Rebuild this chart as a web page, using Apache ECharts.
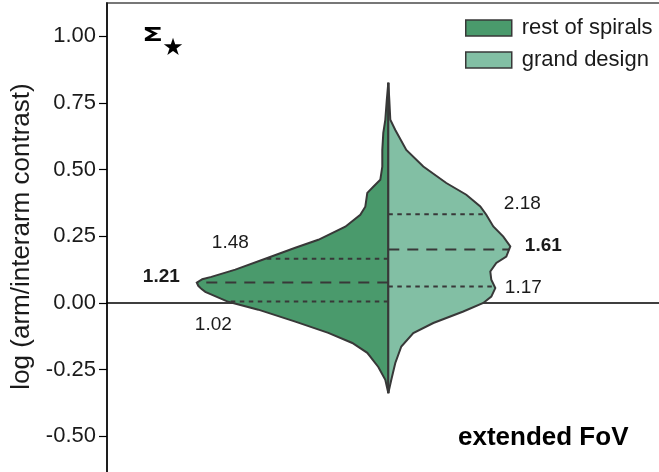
<!DOCTYPE html>
<html>
<head>
<meta charset="utf-8">
<script src="https://cdn.jsdelivr.net/npm/echarts@6/dist/echarts.min.js"></script>
<style>
html,body{margin:0;padding:0;background:#fff;}
#chart{width:659px;height:472px;}
</style>
</head>
<body>
<div id="chart"></div>
<script>
// ---- data ----
const categories = ['rest of spirals', 'grand design'];
const yTicks = [-0.5, -0.25, 0, 0.25, 0.5, 0.75, 1.0];

// violin profile, "rest of spirals" (log contrast vs. half-width density)
const restLog = [-0.338, -0.288, -0.240, -0.187, -0.150, -0.112, -0.070, -0.025, 0.0045, 0.042, 0.053, 0.0645, 0.076, 0.089, 0.098, 0.125, 0.166, 0.207, 0.237, 0.286, 0.331, 0.361, 0.413, 0.436, 0.462, 0.511, 0.574, 0.638, 0.687, 0.762, 0.826];
const restDensity = [0, 3, 10, 21, 36, 60, 93, 130, 160, 183, 187, 190, 191.5, 186, 177, 153, 123, 93, 70, 43, 28, 23, 21, 15, 8, 6, 6, 5, 3, 1.5, 0];

// violin profile, "grand design"
const grandLog = [-0.338, -0.288, -0.225, -0.163, -0.113, -0.075, -0.032, 0.000, 0.024, 0.056, 0.087, 0.118, 0.150, 0.174, 0.212, 0.249, 0.287, 0.331, 0.362, 0.406, 0.450, 0.512, 0.574, 0.649, 0.687, 0.762, 0.826];
const grandDensity = [0, 3, 7, 13, 25, 45, 75, 95, 103, 107, 103, 102, 108, 118, 122, 115, 105, 98, 92, 78, 58, 35, 18, 7, 2, 1, 0];

// quartiles (Q1, median, Q3) in log units and their printed linear values
const restQuartiles = [0.006, 0.077, 0.166];
const restQuartileLabels = ['1.02', '1.21', '1.48'];
const grandQuartiles = [0.062, 0.201, 0.333];
const grandQuartileLabels = ['1.17', '1.61', '2.18'];

// ---- styling / layout ----
const FONT = "'Liberation Sans', Arial, Helvetica, sans-serif";
const INK = '#1a1a1a';
const EDGE = '#383838';
const COLORS = ['#4a9a6c', '#82bfa4'];
const restLabelOffsets = [[-175, 23], [-227, -6], [-158, -15.5]];
const grandLabelOffsets = [[135, 1], [155, -4], [134, -10]];

function interp(vals, dens, q) {
  for (let i = 0; i < vals.length - 1; i++) {
    if (q >= vals[i] && q <= vals[i + 1]) {
      const t = (q - vals[i]) / (vals[i + 1] - vals[i]);
      return dens[i] + t * (dens[i + 1] - dens[i]);
    }
  }
  return 0;
}

function halfRenderer(vals, dens, side, quart, qLabels, offsets, fill) {
  return function (params, api) {
    const pts = vals.map((v, i) => api.coord([side * dens[i], v]));
    const children = [];
    children.push({ type: 'polygon', shape: { points: pts }, style: { fill: fill, stroke: null } });
    quart.forEach((q, k) => {
      const w = interp(vals, dens, q);
      const a = api.coord([0, q]);
      const b = api.coord([side * w, q]);
      children.push({
        type: 'line',
        shape: { x1: a[0], y1: a[1], x2: b[0], y2: b[1] },
        style: { stroke: EDGE, lineWidth: 2, lineDash: k === 1 ? [11, 8] : [4.5, 4.5] }
      });
      children.push({
        type: 'text',
        x: a[0] + offsets[k][0],
        y: a[1] + offsets[k][1],
        style: {
          text: qLabels[k], fontSize: 19, fontFamily: FONT,
          fontWeight: k === 1 ? 'bold' : 'normal', fill: INK,
          align: 'center', verticalAlign: 'middle'
        }
      });
    });
    children.push({ type: 'polyline', shape: { points: pts }, style: { stroke: EDGE, lineWidth: 2, fill: null } });
    const top = api.coord([0, vals[vals.length - 1]]);
    const bot = api.coord([0, vals[0]]);
    children.push({ type: 'line', shape: { x1: top[0], y1: top[1], x2: bot[0], y2: bot[1] }, style: { stroke: EDGE, lineWidth: 2 } });
    return { type: 'group', children: children };
  };
}

const chart = echarts.init(document.getElementById('chart'), null, { renderer: 'canvas' });
chart.setOption({
  animation: false,
  backgroundColor: '#ffffff',
  textStyle: { fontFamily: FONT },
  grid: {
    left: 107, top: 3, width: 562.6, height: 500, show: true,
    borderColor: '#777', borderWidth: 2, backgroundColor: 'transparent',
    outerBoundsMode: 'none', containLabel: false
  },
  xAxis: {
    type: 'value', min: -281.3, max: 281.3,
    axisLine: { show: true, onZero: true, lineStyle: { color: '#000', width: 1.5 } },
    axisTick: { show: false }, axisLabel: { show: false }, splitLine: { show: false }
  },
  yAxis: {
    type: 'value', min: -0.75, max: 1.125, interval: 0.25,
    name: 'log (arm/interarm contrast)', nameLocation: 'middle', nameGap: 72,
    nameTextStyle: { fontSize: 26, color: INK, fontFamily: FONT, padding: [0, 0, 0, 33] },
    axisLine: { show: true, onZero: false, lineStyle: { color: '#000', width: 1.5 } },
    axisTick: { show: true, length: 8, customValues: yTicks, lineStyle: { color: '#000', width: 1.2 } },
    axisLabel: {
      fontSize: 22, color: INK, fontFamily: FONT, margin: 11, customValues: yTicks,
      formatter: v => (Math.abs(v / 0.25 - Math.round(v / 0.25)) < 1e-6 ? v.toFixed(2) : '')
    },
    splitLine: { show: false }
  },
  legend: {
    orient: 'vertical', left: 465, top: 17, padding: 0, itemWidth: 46, itemHeight: 16, itemGap: 10,
    icon: 'rect',
    textStyle: { fontSize: 22, color: INK, fontFamily: FONT, padding: [0, 0, 0, 5] },
    data: categories.map((c, i) => ({ name: c, itemStyle: { color: COLORS[i], borderColor: EDGE, borderWidth: 1.5 } }))
  },
  graphic: [
    { type: 'text', x: 142, y: 36, scaleX: 1.55, style: { text: 'Σ', fontSize: 20, fontWeight: 'bold', fontFamily: "'DejaVu Sans', sans-serif", fill: '#000', align: 'left', verticalAlign: 'middle' } },
    { type: 'text', x: 173, y: 48.5, style: { text: '★', fontSize: 24, fontFamily: "'DejaVu Sans', sans-serif", fill: '#000', align: 'center', verticalAlign: 'middle' } },
    { type: 'text', x: 458, y: 438, style: { text: 'extended FoV', fontSize: 26, fontWeight: 'bold', fontFamily: FONT, fill: '#000', align: 'left', verticalAlign: 'middle' } }
  ],
  series: [
    {
      name: categories[0], type: 'custom', z: 3,
      itemStyle: { color: COLORS[0], borderColor: EDGE },
      renderItem: halfRenderer(restLog, restDensity, -1, restQuartiles, restQuartileLabels, restLabelOffsets, COLORS[0]),
      data: [[0, 0]]
    },
    {
      name: categories[1], type: 'custom', z: 3,
      itemStyle: { color: COLORS[1], borderColor: EDGE },
      renderItem: halfRenderer(grandLog, grandDensity, 1, grandQuartiles, grandQuartileLabels, grandLabelOffsets, COLORS[1]),
      data: [[0, 0]]
    }
  ]
});
</script>
</body>
</html>
